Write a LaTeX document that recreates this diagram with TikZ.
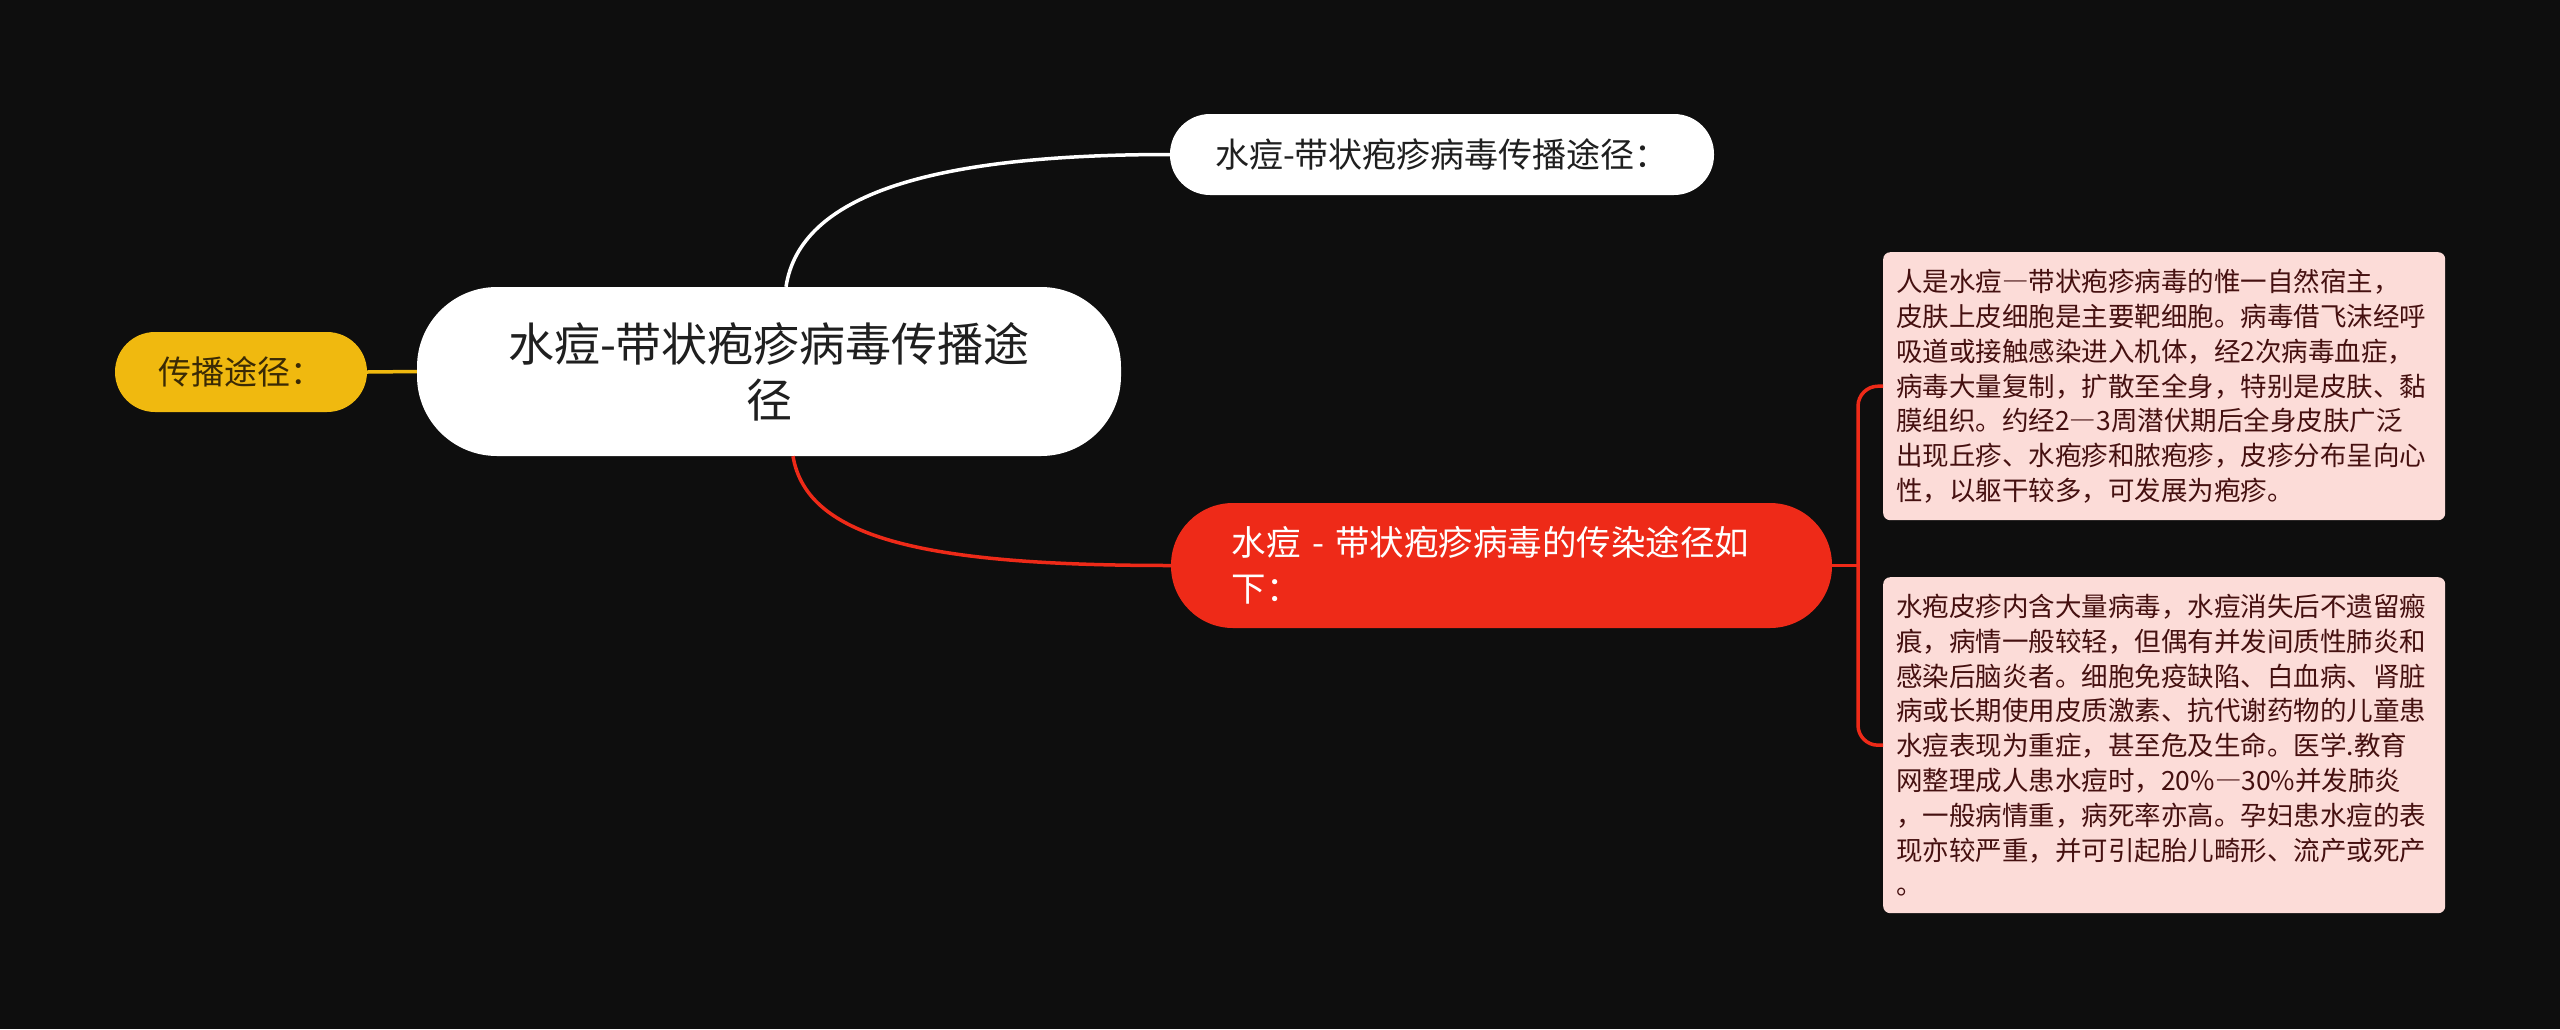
\documentclass[tikz,border=0pt]{standalone}
\usepackage{fontspec}
\newfontfamily\cjk{Noto Sans CJK SC}
\newfontfamily\cjkfw[RawFeature=+fwid]{Noto Sans CJK SC}
\newcommand\fwdash{{\cjkfw —}}
\definecolor{bgc}{HTML}{0E0E0E}
\definecolor{yelc}{HTML}{F0B90F}
\definecolor{redc}{HTML}{EE2A18}
\definecolor{pinkc}{HTML}{FCDCD8}
\definecolor{pinktext}{HTML}{451010}
\definecolor{yeltext}{HTML}{3A2A05}
\begin{document}
\begin{tikzpicture}[x=1pt,y=-1pt,
  centernode/.style={fill=white, rounded corners=80pt, minimum width=704pt, minimum height=169pt,
    align=center, text=black!88, inner sep=0pt, font=\cjk\fontsize{46pt}{56pt}\selectfont},
  topnode/.style={fill=white, rounded corners=40pt, minimum width=544pt, minimum height=81pt,
    text=black!88, inner sep=0pt, font=\cjk\fontsize{34pt}{40pt}\selectfont},
  yelnode/.style={fill=yelc, rounded corners=40pt, minimum width=252pt, minimum height=80pt,
    text=yeltext, inner sep=0pt, font=\cjk\fontsize{33pt}{38pt}\selectfont},
  rednode/.style={fill=redc, rounded corners=62pt, minimum width=661pt, minimum height=125pt,
    text width=540pt, align=left, text=white, inner sep=0pt, font=\cjk\fontsize{34.5pt}{46pt}\selectfont},
  pinkbox/.style={fill=pinkc, rounded corners=7pt, text width=536pt, align=left, inner xsep=13pt,
    inner ysep=0pt, text=pinktext, font=\cjk\fontsize{26.5pt}{34.8pt}\selectfont},
  wline/.style={draw=white, line width=3.5pt},
  rline/.style={draw=redc, line width=3.5pt},
  yline/.style={draw=yelc, line width=3.5pt}
]
\fill[bgc] (0,0) rectangle (2560,1029);
\useasboundingbox (0,0) rectangle (2560,1029);

\node[centernode] (cn) at (769,371.5) {水痘-带状疱疹病毒传播途\\径};
\node[topnode] (top) at (1442,154.5) {水痘-带状疱疹病毒传播途径：};
\node[yelnode] (yel) at (241,372) {传播途径：};
\node[rednode] (red) at (1501.5,565.5) {水痘 - 带状疱疹病毒的传染途径如\\下：};

\node[pinkbox, anchor=north west, minimum height=268pt] (p1) at (1883,252)
{人是水痘\fwdash 带状疱疹病毒的惟一自然宿主，\\
皮肤上皮细胞是主要靶细胞。病毒借飞沫经呼\\
吸道或接触感染进入机体，经2次病毒血症，\\
病毒大量复制，扩散至全身，特别是皮肤、黏\\
膜组织。约经2\fwdash 3周潜伏期后全身皮肤广泛\\
出现丘疹、水疱疹和脓疱疹，皮疹分布呈向心\\
性，以躯干较多，可发展为疱疹。};

\node[pinkbox, anchor=north west, minimum height=336pt] (p2) at (1883,577)
{水疱皮疹内含大量病毒，水痘消失后不遗留瘢\\
痕，病情一般较轻，但偶有并发间质性肺炎和\\
感染后脑炎者。细胞免疫缺陷、白血病、肾脏\\
病或长期使用皮质激素、抗代谢药物的儿童患\\
水痘表现为重症，甚至危及生命。医学.教育\\
网整理成人患水痘时，20\%\fwdash 30\%并发肺炎\\
，一般病情重，病死率亦高。孕妇患水痘的表\\
现亦较严重，并可引起胎儿畸形、流产或死产\\
。};

\draw[yline] (yel.east) -- (cn.west);
\draw[wline] ([xshift=17pt]cn.north) .. controls (800,195) and (930,154.5) .. (top.west);
\draw[rline] ([xshift=24pt]cn.south) .. controls (807,540) and (930,565.5) .. (red.west);
\coordinate (bx) at (1858,565.5);
\draw[rline] (red.east) -- (bx);
\draw[rline, rounded corners=20pt] (p1.west) -| (bx) |- (p2.west);
\end{tikzpicture}
\end{document}
